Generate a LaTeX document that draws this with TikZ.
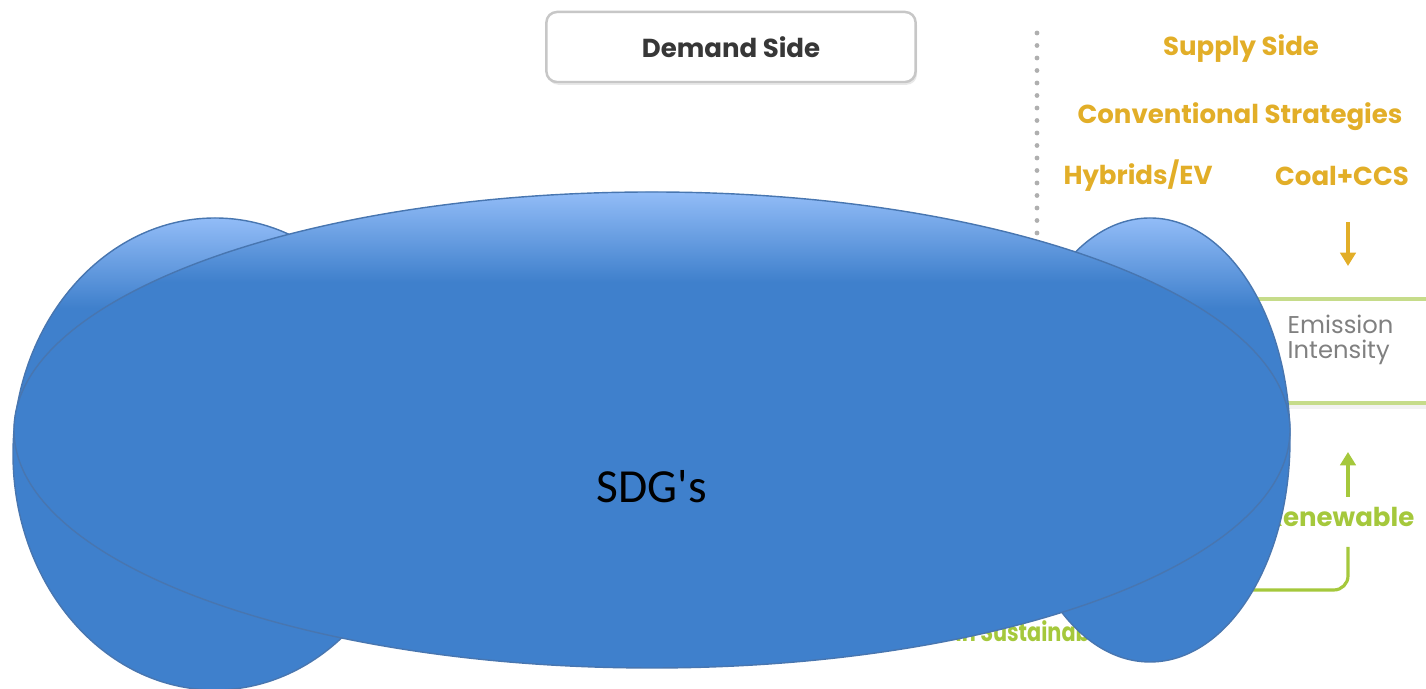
\documentclass[tikz,border=0pt]{standalone}
\usepackage{fontspec}
\setmainfont{Carlito}
\newfontfamily\plakat{Poppins}
\usetikzlibrary{arrows.meta,shadows}

\definecolor{sdgblau}{RGB}{63,128,204}
\definecolor{sdghell}{RGB}{146,188,247}
\definecolor{sdgrand}{RGB}{72,118,176}
\definecolor{gold}{RGB}{226,174,40}
\definecolor{gruen}{RGB}{165,200,60}
\definecolor{gruenlinie}{RGB}{198,220,138}
\definecolor{grautext}{RGB}{128,128,128}
\definecolor{dunkel}{RGB}{55,55,55}
\definecolor{punktgrau}{RGB}{175,175,175}

\tikzset{
  kopf/.style={font=\plakat\bfseries\fontsize{7.4}{9}\selectfont, inner sep=0pt},
  knopf/.style={kopf, text=dunkel, draw=black!22, line width=0.7pt, fill=white,
    rounded corners=3pt, minimum width=3.69cm, minimum height=0.70cm,
    drop shadow={shadow xshift=0.4pt, shadow yshift=-0.8pt, opacity=0.18}},
  pfeil/.style={line width=0.9pt, -{Triangle[width=4.4pt,length=3.8pt]}},
}

\begin{document}
\begin{tikzpicture}[x=0.01cm, y=-0.01cm]
    \useasboundingbox (0,0) rectangle (1426,689);

    % Nachfrageseite
    \node[knopf] (nachfrage) at (731,47) {Demand Side};

    % gepunktete Trennlinie
    \foreach \i in {0,...,16}
        \fill[punktgrau] (1037,{33+12.5*\i}) circle (2.4);

    % Angebotsseite
    \node[kopf, text=gold] (angebot) at (1241,49) {Supply Side};
    \node[kopf, text=gold] (konv) at (1240,117) {Conventional Strategies};
    \node[kopf, text=gold] (hybrid) at (1138,176) {Hybrids/EV};
    \node[kopf, text=gold] (kohle) at (1342,176) {Coal+CCS};

    % Emissionsintensitaet
    \draw[gruenlinie, line width=0.9pt] (1000,299) -- (1426,299);
    \fill[black!5] (1000,404) rectangle (1426,409);
    \draw[gruenlinie, line width=0.9pt] (1000,403) -- (1426,403);
    \node[anchor=west, align=left, inner sep=0pt, text=grautext,
        font=\plakat\fontsize{6.9}{7.1}\selectfont] (emission) at (1287,340) {Emission\\Intensity};

    \coordinate (goldstart) at (1348,222);
    \coordinate (goldspitze) at (1348,266);
    \draw[pfeil, gold] (goldstart) -- (goldspitze);

    % erneuerbare Energien
    \node[kopf, text=gruen, anchor=base east] (erneuerbar) at (1415,527) {Renewable};
    \coordinate (gruenstart) at (1348,497);
    \coordinate (gruenspitze) at (1348,452);
    \draw[pfeil, gruen] (gruenstart) -- (gruenspitze);
    \coordinate (lstart) at (1348,547);
    \coordinate (lende) at (1150,590);
    \draw[gruen, line width=0.9pt, rounded corners=4pt] (lstart) |- (lende);

    \node[kopf, text=gruen, anchor=base west] (nachhaltig) at (955,642)
        {\scalebox{0.8}[1]{in Sustainable}};

    % SDG-Blasen: links, rechts, Mitte
    \foreach \mx/\my/\rx/\ry in {215/454/202/236, 1150/440/140/222, 652/430/638/238} {
        \begin{scope}
            \clip (\mx,\my) ellipse ({\rx} and {\ry});
            \fill[sdgblau] (\mx,\my) ellipse ({\rx} and {\ry});
            \shade[top color=sdghell, bottom color=sdgblau]
                ({\mx-\rx},{\my-\ry}) rectangle ({\mx+\rx},{\my-\ry+90});
        \end{scope}
        \draw[sdgrand, line width=0.4pt] (\mx,\my) ellipse ({\rx} and {\ry});
    }
    \node[anchor=base, inner sep=0pt, font=\fontsize{13.5}{16}\selectfont] (sdg) at (652,503) {SDG\textquotesingle s};
\end{tikzpicture}
\end{document}
